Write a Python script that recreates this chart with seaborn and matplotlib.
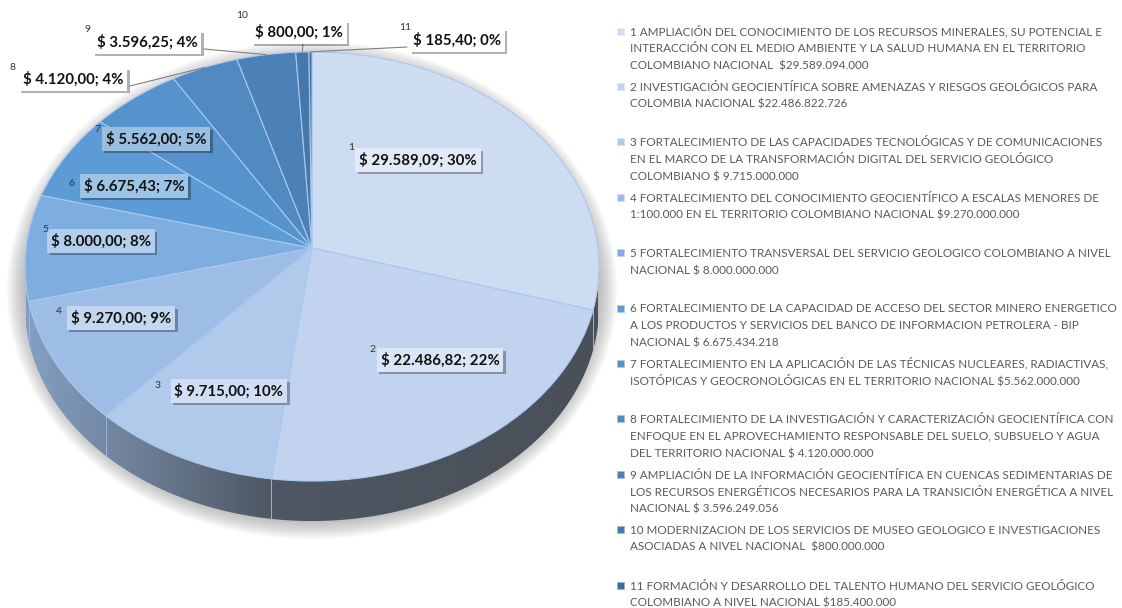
import numpy as np
import matplotlib
matplotlib.use("Agg")
import matplotlib.pyplot as plt
import matplotlib.patheffects as pe
import seaborn as sns
from matplotlib.transforms import Transform
from matplotlib.patches import Rectangle, Ellipse, Polygon
from matplotlib.colors import LinearSegmentedColormap, to_rgb

sns.set_theme(style="white")
plt.rcParams["font.family"] = ["Lato", "DejaVu Sans"]

# montos por proyecto (millones de pesos)
numbers = ["1", "2", "3", "4", "5", "6", "7", "8", "9", "10", "11"]
values = [29589.094, 22486.822726, 9715.0, 9270.0, 8000.0, 6675.434218,
          5562.0, 4120.0, 3596.249056, 800.0, 185.4]
percents = [30, 22, 10, 9, 8, 7, 5, 4, 4, 1, 0]
legend_labels = [
    "1 AMPLIACIÓN DEL CONOCIMIENTO DE LOS RECURSOS MINERALES, SU POTENCIAL E\n"
    "INTERACCIÓN CON EL MEDIO AMBIENTE Y LA SALUD HUMANA EN EL TERRITORIO\n"
    "COLOMBIANO NACIONAL  $29.589.094.000",
    "2 INVESTIGACIÓN GEOCIENTÍFICA SOBRE AMENAZAS Y RIESGOS GEOLÓGICOS PARA\n"
    "COLOMBIA NACIONAL $22.486.822.726",
    "3 FORTALECIMIENTO DE LAS CAPACIDADES TECNOLÓGICAS Y DE COMUNICACIONES\n"
    "EN EL MARCO DE LA TRANSFORMACIÓN DIGITAL DEL SERVICIO GEOLÓGICO\n"
    "COLOMBIANO $ 9.715.000.000",
    "4 FORTALECIMIENTO DEL CONOCIMIENTO GEOCIENTÍFICO A ESCALAS MENORES DE\n"
    "1:100.000 EN EL TERRITORIO COLOMBIANO NACIONAL $9.270.000.000",
    "5 FORTALECIMIENTO TRANSVERSAL DEL SERVICIO GEOLOGICO COLOMBIANO A NIVEL\n"
    "NACIONAL $ 8.000.000.000",
    "6 FORTALECIMIENTO DE LA CAPACIDAD DE ACCESO DEL SECTOR MINERO ENERGETICO\n"
    "A LOS PRODUCTOS Y SERVICIOS DEL BANCO DE INFORMACION PETROLERA - BIP\n"
    "NACIONAL $ 6.675.434.218",
    "7 FORTALECIMIENTO EN LA APLICACIÓN DE LAS TÉCNICAS NUCLEARES, RADIACTIVAS,\n"
    "ISOTÓPICAS Y GEOCRONOLÓGICAS EN EL TERRITORIO NACIONAL $5.562.000.000",
    "8 FORTALECIMIENTO DE LA INVESTIGACIÓN Y CARACTERIZACIÓN GEOCIENTÍFICA CON\n"
    "ENFOQUE EN EL APROVECHAMIENTO RESPONSABLE DEL SUELO, SUBSUELO Y AGUA\n"
    "DEL TERRITORIO NACIONAL $ 4.120.000.000",
    "9 AMPLIACIÓN DE LA INFORMACIÓN GEOCIENTÍFICA EN CUENCAS SEDIMENTARIAS DE\n"
    "LOS RECURSOS ENERGÉTICOS NECESARIOS PARA LA TRANSICIÓN ENERGÉTICA A NIVEL\n"
    "NACIONAL $ 3.596.249.056",
    "10 MODERNIZACION DE LOS SERVICIOS DE MUSEO GEOLOGICO E INVESTIGACIONES\n"
    "ASOCIADAS A NIVEL NACIONAL  $800.000.000",
    "11 FORMACIÓN Y DESARROLLO DEL TALENTO HUMANO DEL SERVICIO GEOLÓGICO\n"
    "COLOMBIANO A NIVEL NACIONAL $185.400.000",
]

colors = ["#cddcf0", "#c1d3ee", "#b1caeb", "#9dbde6", "#7eade0", "#5c9bd5",
          "#5692cb", "#518ac1", "#4b81b6", "#4577aa", "#406d9e"]

# pie geometry in pixels (axes uses pixel coordinates)
CX, CY, SX, SY, K = 312, 248, 286, 213, 0.086
DEPTH = 40

# label layout: text centre, superscript position, leader start (outside labels)
label_pos = [(418, 160), (440, 360), (229, 391), (121, 318), (101, 241), (134, 186),
             (156, 139), (73, 79), (147, 42), (299, 32), (457, 40)]
num_pos = [(351, 148), (372, 349), (158, 385), (59, 311), (45, 229), (72, 184),
           (97, 129), (13, 68), (88, 29), (242, 15), (405, 27)]
leader_from = {7: (130, 86), 8: (204, 49), 9: (303, 44), 10: (407, 47)}


class Perspective(Transform):
    input_dims = 2
    output_dims = 2

    def __init__(self, dy=0.0):
        super().__init__()
        self.dy = dy

    def transform_non_affine(self, values):
        v = np.asarray(values, dtype=float).reshape(-1, 2)
        x, y = v[:, 0], v[:, 1]
        w = 1 + K * y
        return np.column_stack([CX + SX * x / w, CY + self.dy - SY * y / w])


def fmt(v):
    s = f"{v:,.2f}"
    return s.replace(",", "X").replace(".", ",").replace("X", ".")


def mix(c, amount):
    r = np.array(to_rgb(c))
    return tuple(r + (1 - r) * amount)


fig = plt.figure(figsize=(11.22, 6.08), dpi=100)
ax = fig.add_axes([0, 0, 1, 1])

wedges, _ = ax.pie(values, colors=colors, startangle=90, counterclock=False,
                   wedgeprops=dict(linewidth=0.8, edgecolor="#a9c9ef"))
top = Perspective()
for w in wedges:
    w.set_transform(top + ax.transData)
    w.set_zorder(4)

# soft shadow under the pie
for i in range(16):
    ax.add_patch(Ellipse((CX, 290), 2 * (284 + i * 1.4), 2 * (228 + i * 1.4),
                         facecolor="#7a7a7a", alpha=0.045, lw=0, zorder=0))

# side of the cylinder
theta = np.linspace(np.pi, 2 * np.pi, 240)
circ = np.column_stack([np.cos(theta), np.sin(theta)])
band = np.vstack([top.transform(circ), Perspective(DEPTH).transform(circ)[::-1]])
clip = Polygon(band, closed=True, facecolor="none", edgecolor="none",
               transform=ax.transData)
ax.add_patch(clip)
side_cmap = LinearSegmentedColormap.from_list(
    "side", [(0, "#83a0c4"), (0.14, "#7488a2"), (0.43, "#4e5763"), (1, "#4a5059")])
im = ax.imshow(np.linspace(0, 1, 256)[None, :], extent=(CX - SX, CX + SX, 560, 240),
               cmap=side_cmap, aspect="auto", zorder=2)
im.set_clip_path(clip)

# thin light edges on the side at slice boundaries
cum = np.cumsum([0] + values) / sum(values)
for f in cum[1:-1]:
    ang = np.deg2rad(90 - 360 * f)
    if np.sin(ang) < -0.05:
        p0 = top.transform([[np.cos(ang), np.sin(ang)]])[0]
        ax.plot([p0[0], p0[0]], [p0[1], p0[1] + DEPTH], color="#93b8e6",
                lw=0.7, zorder=3)

# data labels
for i, v in enumerate(values):
    x, y = label_pos[i]
    outside = i in leader_from
    face = "white" if outside else mix(colors[i], 0.4)
    t = ax.text(x, y, f"$ {fmt(v)}; {percents[i]}%", ha="center", va="center",
                fontsize=10.8, fontweight="bold", color="#111111", zorder=7,
                bbox=dict(boxstyle="square,pad=0.26", facecolor=face, edgecolor="none"))
    t.get_bbox_patch().set_path_effects(
        [pe.withSimplePatchShadow(offset=(1.8, -1.8), shadow_rgbFace="#000000", alpha=0.3),
         pe.Normal()])
    ax.text(num_pos[i][0], num_pos[i][1], numbers[i], ha="center", va="center",
            fontsize=7.5, color="#333333", zorder=8)
    if outside:
        mid = np.deg2rad(90 - 360 * (cum[i] + cum[i + 1]) / 2)
        p1 = top.transform([[np.cos(mid), np.sin(mid)]])[0]
        x0, y0 = leader_from[i]
        ax.plot([x0, p1[0]], [y0, p1[1]], color="#7f7f7f", lw=0.8, zorder=6)

# legend: fixed slots, one text per line
slot0, slot, line_h = 35.5, 55.4, 16.9
for i, lab in enumerate(legend_labels):
    base = slot0 + i * slot
    ax.add_patch(Rectangle((617, base - 8), 7, 7, facecolor=colors[i],
                           edgecolor=mix(colors[i], 0.5), lw=0.6, zorder=5))
    for j, line in enumerate(lab.split("\n")):
        ax.text(630, base + j * line_h, line, ha="left", va="baseline",
                fontsize=8.4, color="#595959", zorder=5)

ax.set_xlim(0, 1122)
ax.set_ylim(608, 0)
ax.set_aspect("auto")
ax.axis("off")

fig.savefig("out.png", dpi=100, facecolor="white")
